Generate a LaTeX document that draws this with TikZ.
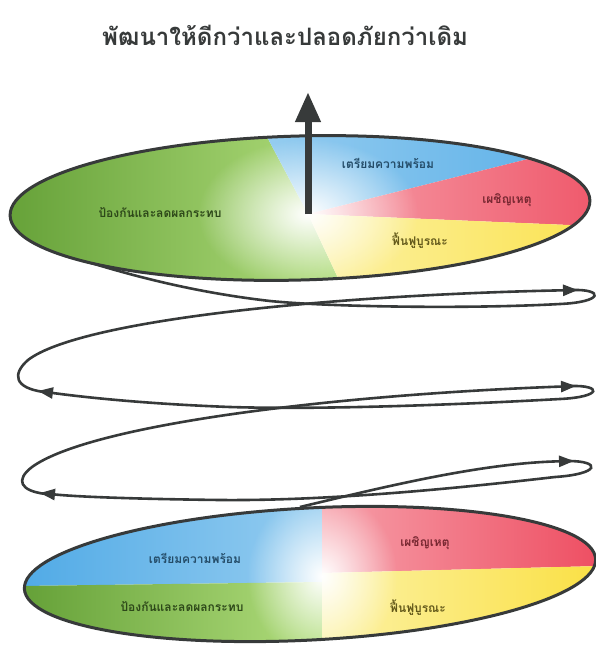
\documentclass[tikz,border=0pt]{standalone}
\usepackage{fontspec}
\newfontfamily\thaifont[Script=Thai]{Loma}
\usetikzlibrary{arrows.meta,fadings}

\definecolor{leafdark}{RGB}{100,160,55}
\definecolor{leaflight}{RGB}{178,222,125}
\definecolor{skyblue}{RGB}{80,170,230}
\definecolor{skylight}{RGB}{150,205,240}
\definecolor{alarmred}{RGB}{238,78,98}
\definecolor{alarmlight}{RGB}{246,160,170}
\definecolor{sunyellow}{RGB}{250,224,68}
\definecolor{sunlight}{RGB}{252,242,165}
\definecolor{inkgray}{RGB}{55,58,58}

\tikzfading[name=glowfade, inner color=transparent!0, outer color=transparent!100]

\begin{document}
\begin{tikzpicture}[x=1pt, y=-1pt,
    >={Triangle[length=15pt, width=11pt]},
    rim/.style   = {draw=inkgray, line width=3pt},
    coil/.style  = {inkgray, line width=2.6pt},
    tag/.style   = {font=\thaifont\bfseries\fontsize{12}{14}\selectfont},
    glow/.style  = {fill=white, path fading=glowfade}
]
\useasboundingbox (0,0) rectangle (596,656);

% Title
\node[font=\thaifont\bfseries\fontsize{24}{28}\selectfont, text=inkgray] (title) at (285,35)
    {พัฒนาให้ดีกว่าและปลอดภัยกว่าเดิม};

% Lower disc: four quarters round a bright centre
\coordinate (low) at (322,576);
\begin{scope}
    \clip (310,574) ellipse [x radius=286pt, y radius=66pt, rotate=3];
    \shade[left color=skyblue, right color=skylight] (20,500) -- (322,500) -- (322,582) -- (20,586) -- cycle;
    \shade[left color=leafdark, right color=leaflight] (20,586) -- (322,582) -- (322,650) -- (20,650) -- cycle;
    \shade[left color=alarmlight, right color=alarmred] (322,500) -- (600,500) -- (600,566) -- (322,573) -- cycle;
    \shade[left color=sunlight, right color=sunyellow] (322,573) -- (600,566) -- (600,650) -- (322,650) -- cycle;
    \fill[glow] (low) circle [x radius=75pt, y radius=85pt];
\end{scope}
\draw[rim] (310,574) ellipse [x radius=286pt, y radius=66pt, rotate=3];

\node[tag, text=skyblue!45!black]  (lowprep) at (195,558) {เตรียมความพร้อม};
\node[tag, text=leafdark!45!black] (lowprev) at (182,607) {ป้องกันและลดผลกระทบ};
\node[tag, text=alarmred!50!black] (lowresp) at (425,543) {เผชิญเหตุ};
\node[tag, text=sunyellow!40!black] (lowreco) at (418,608) {ฟื้นฟูบูรณะ};

% Rising coil, three turns from the lower disc to the upper one
\draw[coil, ->] (300,507) .. controls (380,488) and (480,463) .. (574,461);
\draw[coil, ->] (568,461) .. controls (602,461) and (600,474) .. (555,477)
    .. controls (460,488) and (330,501) .. (220,500)
    .. controls (140,499) and (80,497) .. (40,493);
\draw[coil, ->] (46,494) .. controls (20,491) and (15,480) .. (32,467)
    .. controls (90,425) and (330,395) .. (576,386);
\draw[coil, ->] (570,386) .. controls (603,385) and (602,397) .. (560,399)
    .. controls (470,404) and (330,410) .. (230,407)
    .. controls (150,404) and (90,398) .. (38,391);
\draw[coil, ->] (44,392) .. controls (14,388) and (12,374) .. (28,360)
    .. controls (80,320) and (330,295) .. (578,290);
\draw[coil] (572,290) .. controls (604,289) and (604,302) .. (560,304)
    .. controls (470,309) and (330,307) .. (270,301)
    .. controls (200,293) and (140,278) .. (88,262);

% Upper disc: sectors fanning out from the hub
\coordinate (hub) at (308,214);
\begin{scope}
    \clip (300,208) ellipse [x radius=290pt, y radius=72pt, rotate=1.5];
    \shade[left color=leafdark, right color=leaflight] (hub) -- (258,120) -- (0,120) -- (0,295) -- (346,295) -- cycle;
    \shade[left color=skylight, right color=skyblue] (hub) -- (258,120) -- (640,120) -- (640,131) -- cycle;
    \shade[left color=alarmlight, right color=alarmred] (hub) -- (640,131) -- (640,228) -- cycle;
    \shade[left color=sunlight, right color=sunyellow] (hub) -- (640,228) -- (640,295) -- (346,295) -- cycle;
    \fill[glow] (hub) circle [x radius=110pt, y radius=75pt];
\end{scope}
\draw[rim] (300,208) ellipse [x radius=290pt, y radius=72pt, rotate=1.5];

\node[tag, text=leafdark!45!black] (upprev) at (160,213) {ป้องกันและลดผลกระทบ};
\node[tag, text=skyblue!45!black]  (upprep) at (388,163) {เตรียมความพร้อม};
\node[tag, text=alarmred!50!black] (upresp) at (507,200) {เผชิญเหตุ};
\node[tag, text=sunyellow!40!black] (upreco) at (420,241) {ฟื้นฟูบูรณะ};

% Upward arrow out of the hub
\draw[inkgray, line width=7pt, -{Triangle[length=30pt, width=24pt]}] (hub) -- (308,92);

\end{tikzpicture}
\end{document}
